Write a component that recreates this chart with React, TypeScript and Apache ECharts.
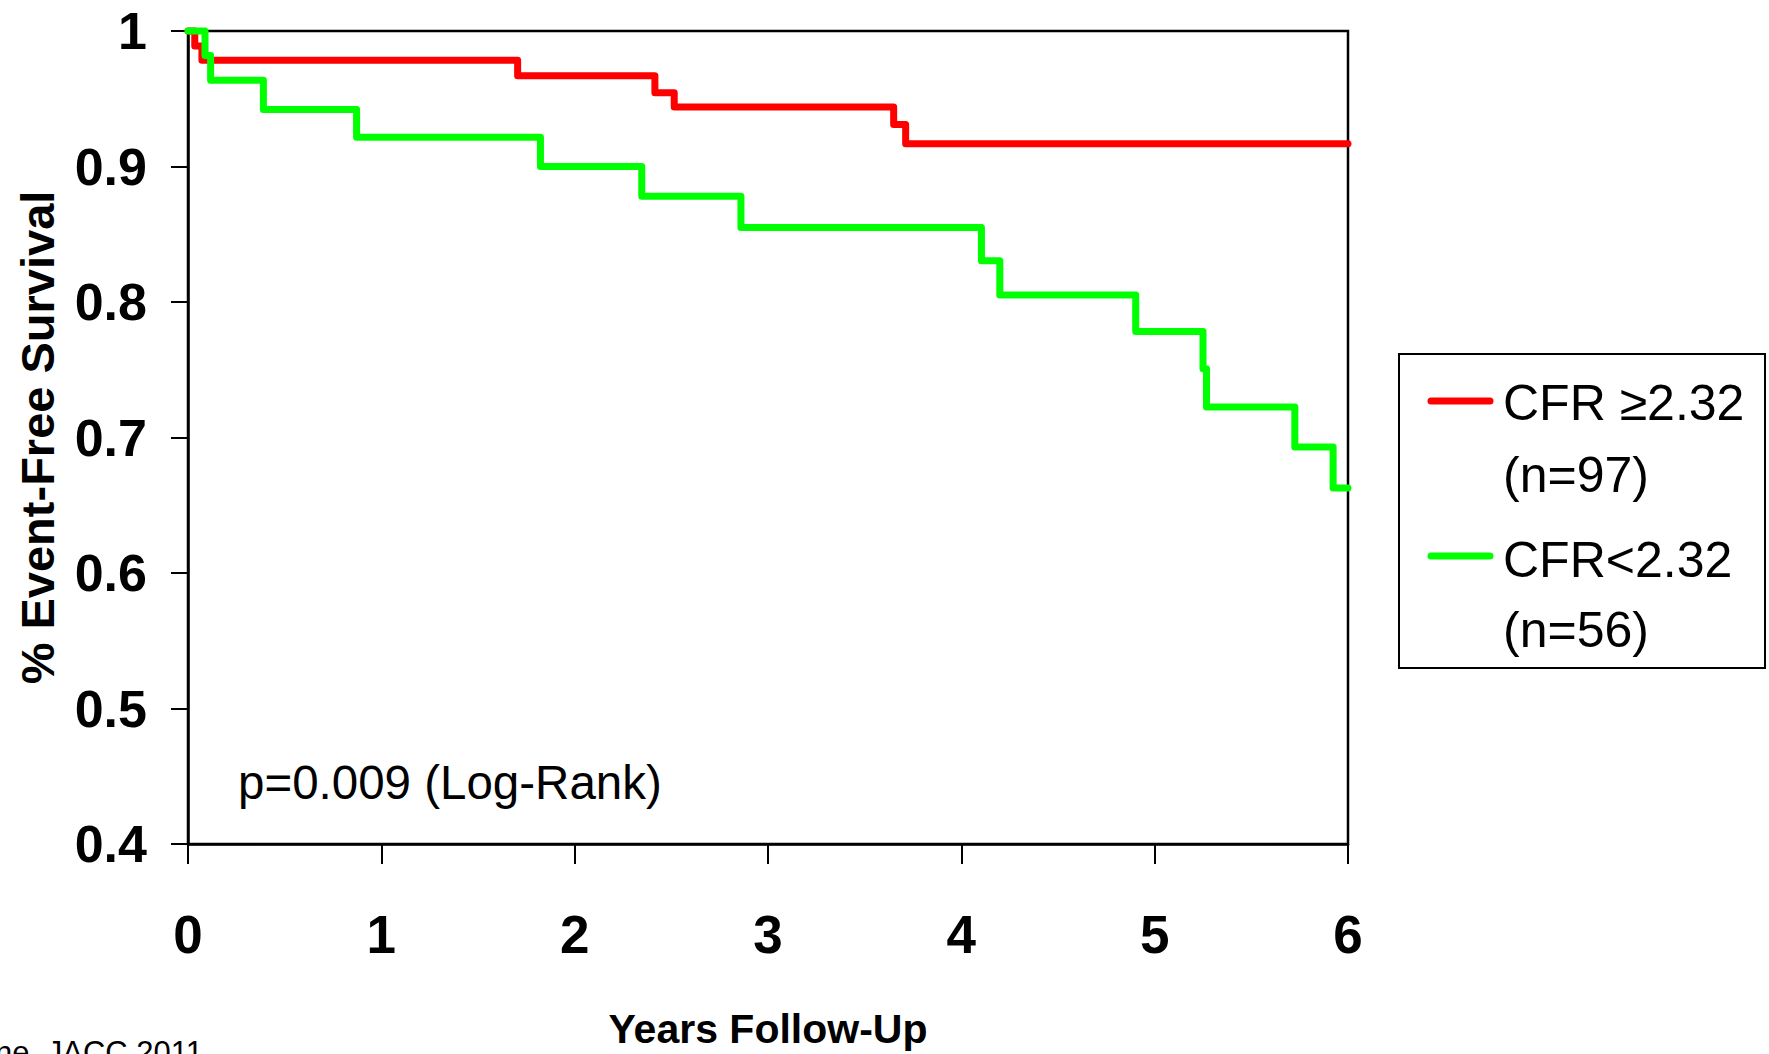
import React, { useEffect, useRef } from "react";
import * as echarts from "echarts";

// Kaplan-Meier step data (time in years, event-free survival)
const redTimes = [0, 0.035, 0.072, 1.705, 2.415, 2.515, 3.65, 3.712, 6.0];
const redSurv = [1, 0.989, 0.9785, 0.967, 0.9545, 0.944, 0.931, 0.9168, 0.9168];

const greenTimes = [0, 0.088, 0.117, 0.39, 0.872, 1.823, 2.347, 2.86, 4.104, 4.199, 4.902, 5.25, 5.268, 5.725, 5.923, 6.0];
const greenSurv = [1, 0.982, 0.9636, 0.942, 0.9215, 0.9, 0.878, 0.855, 0.8305, 0.8052, 0.7782, 0.7507, 0.7225, 0.693, 0.6628, 0.6628];

const xTicks = [0, 1, 2, 3, 4, 5, 6];
const yMin = 0.4;
const yMax = 1;
const yStep = 0.1;

const legendLines = [
  { color: "#FF0000", line1: "CFR \u22652.32", line2: "(n=97)" },
  { color: "#00FF00", line1: "CFR<2.32", line2: "(n=56)" },
];

const pText = "p=0.009 (Log-Rank)";
const sourceText = "ne, JACC 2011";

export default function App() {
  const ref = useRef<HTMLDivElement>(null);
  useEffect(() => {
    if (!ref.current) return;
    const chart = echarts.init(ref.current, null, { renderer: "svg" });
    const font = "Liberation Sans, Arial, Helvetica, sans-serif";
    const option = {
      animation: false,
      backgroundColor: "#ffffff",
      grid: {
        left: 188,
        top: 31,
        width: 1160,
        height: 814,
        show: true,
        borderColor: "#000",
        borderWidth: 2.5,
        backgroundColor: "transparent",
      },
      xAxis: {
        type: "value",
        min: xTicks[0],
        max: xTicks[xTicks.length - 1],
        interval: 1,
        name: "Years Follow-Up",
        nameLocation: "middle",
        nameGap: 164,
        nameTextStyle: { fontFamily: font, fontWeight: "bold", fontSize: 41, color: "#000" },
        axisLine: { show: true, lineStyle: { color: "#000", width: 2.5 } },
        axisTick: { show: true, length: 20, lineStyle: { color: "#000", width: 2 } },
        axisLabel: { margin: 64, fontFamily: font, fontWeight: "bold", fontSize: 53, color: "#000" },
        splitLine: { show: false },
      },
      yAxis: {
        type: "value",
        min: yMin,
        max: yMax,
        interval: yStep,
        name: "% Event-Free Survival",
        nameLocation: "middle",
        nameGap: 127,
        nameTextStyle: { fontFamily: font, fontWeight: "bold", fontSize: 47, color: "#000" },
        axisLine: { show: true, lineStyle: { color: "#000", width: 2.5 } },
        axisTick: { show: true, length: 17, lineStyle: { color: "#000", width: 2 } },
        axisLabel: {
          margin: 41,
          fontFamily: font,
          fontWeight: "bold",
          fontSize: 52,
          color: "#000",
          formatter: (v: number) => (Math.abs(v - 1) < 1e-9 ? "1" : v.toFixed(1)),
        },
        splitLine: { show: false },
      },
      series: [
        {
          type: "line",
          name: legendLines[0].line1,
          data: redTimes.map((t, i) => [t, redSurv[i]]),
          step: "end",
          symbol: "none",
          clip: false,
          lineStyle: { color: legendLines[0].color, width: 7, join: "round", cap: "round" },
          z: 3,
        },
        {
          type: "line",
          name: legendLines[1].line1,
          data: greenTimes.map((t, i) => [t, greenSurv[i]]),
          step: "end",
          symbol: "none",
          clip: false,
          lineStyle: { color: legendLines[1].color, width: 7, join: "round", cap: "round" },
          z: 4,
        },
      ],
      graphic: [
        {
          type: "text",
          left: 238,
          top: 758,
          style: { text: pText, font: `47.5px ${font}`, fill: "#000" },
        },
        {
          type: "rect",
          shape: { x: 1399, y: 354, width: 366, height: 314 },
          style: { fill: "#fff", stroke: "#000", lineWidth: 2 },
        },
        {
          type: "line",
          shape: { x1: 1431, y1: 401, x2: 1490, y2: 401 },
          style: { stroke: legendLines[0].color, lineWidth: 7, lineCap: "round" },
        },
        {
          type: "line",
          shape: { x1: 1431, y1: 556, x2: 1490, y2: 556 },
          style: { stroke: legendLines[1].color, lineWidth: 7, lineCap: "round" },
        },
        {
          type: "text",
          x: 1503,
          y: 403,
          style: { text: legendLines[0].line1, font: `50px ${font}`, fill: "#000", verticalAlign: "middle" },
        },
        {
          type: "text",
          x: 1503,
          y: 475,
          style: { text: legendLines[0].line2, font: `50px ${font}`, fill: "#000", verticalAlign: "middle" },
        },
        {
          type: "text",
          x: 1503,
          y: 560,
          style: { text: legendLines[1].line1, font: `50px ${font}`, fill: "#000", verticalAlign: "middle" },
        },
        {
          type: "text",
          x: 1503,
          y: 630,
          style: { text: legendLines[1].line2, font: `50px ${font}`, fill: "#000", verticalAlign: "middle" },
        },
        {
          type: "text",
          x: -5,
          y: 1052,
          style: { text: sourceText, font: `31px ${font}`, fill: "#000", verticalAlign: "middle" },
        },
      ],
    };
    chart.setOption(option as any);
    return () => chart.dispose();
  }, []);
  return (
    <div
      ref={ref}
      style={{ position: "absolute", left: 0, top: 0, width: 1769, height: 1054, background: "#fff" }}
    />
  );
}
